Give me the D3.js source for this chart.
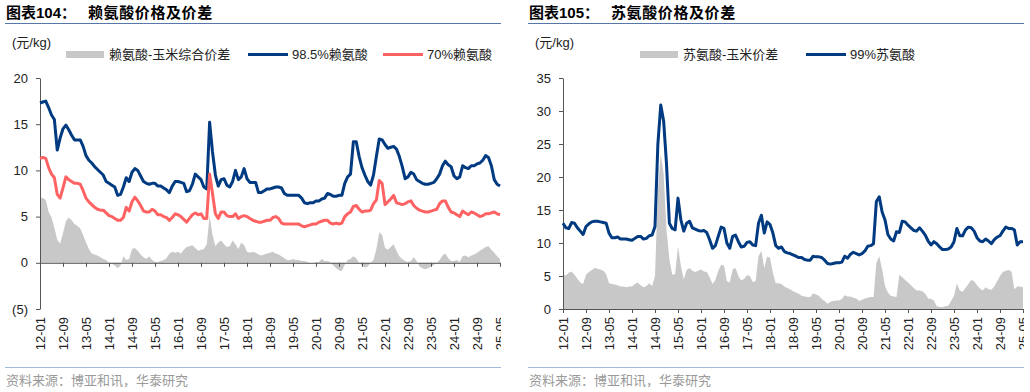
<!DOCTYPE html>
<html>
<head>
<meta charset="utf-8">
<script src="https://cdn.jsdelivr.net/npm/d3@7"></script>
<style>
  body { margin: 0; background: #fff; }
  text { font-family: "Liberation Sans", "Noto Sans CJK SC", sans-serif; }
</style>
</head>
<body>
<script>
// monthly points, 2012-01 .. 2025-05
var xTickLabels = ["12-01","12-09","13-05","14-01","14-09","15-05","16-01","16-09","17-05","18-01","18-09",
  "19-05","20-01","20-09","21-05","22-01","22-09","23-05","24-01","24-09","25-05"];

var lysSpread = [
  7.1, 7.0, 6.8, 5.5, 4.9, 3.8, 2.5, 2.1, 3.2, 4.5, 4.9, 4.6,
  4.2, 4.0, 3.7, 3.0, 2.2, 1.5, 1.0, 0.9, 0.8, 0.6, 0.4, 0.3,
  0.0, -0.1, -0.3, -0.6, -0.3, 0.7, 0.3, 0.4, 1.5, 1.6, 1.3, 0.9,
  0.6, 0.4, 0.7, 0.3, 0.1, 0.1, 0.2, 0.3, 0.5, 1.0, 1.2, 1.1,
  1.2, 1.0, 1.4, 1.7, 1.8, 1.9, 1.6, 1.3, 1.4, 1.5, 2.0, 5.1,
  3.0, 1.8, 2.2, 2.4, 2.0, 1.7, 1.8, 2.4, 2.0, 1.5, 2.2, 1.9,
  1.2, 1.1, 1.2, 1.1, 0.9, 0.8, 0.9, 1.0, 1.1, 1.2, 1.0, 0.9,
  0.7, 0.5, 0.3, 0.3, 0.4, 0.3, 0.3, 0.2, 0.2, 0.1, 0.0, 0.0,
  0.1, 0.1, 0.4, 0.2, 0.2, 0.1, -0.3, -0.6, -0.8, -0.9, -0.2, 0.3,
  0.4, 0.7, 0.5, 0.0, -0.3, -0.5, -0.4, 0.0, 0.3, 1.5, 3.3, 3.0,
  1.6, 1.4, 1.7, 2.0, 1.3, 0.7, 0.4, 0.2, 0.1, 0.2, 0.6, 0.2,
  -0.4, -0.6, -0.7, -0.6, -0.4, -0.2, 0.0, 0.3, 0.8, 1.0, 0.5, 0.2,
  0.2, 0.3, 0.1, 0.7, 0.8, 0.6, 0.8, 0.9, 1.1, 1.3, 1.5, 1.7,
  1.8, 1.4, 1.1, 0.7, 0.4
];

var lys985 = [
  17.3, 17.4, 17.5, 16.8, 16.0, 15.5, 12.2, 13.5, 14.5, 14.9, 14.4, 13.8,
  13.3, 13.3, 13.3, 12.6, 11.6, 11.1, 10.8, 10.4, 10.1, 9.8, 9.5, 8.8,
  8.6, 8.4, 8.2, 7.3, 7.4, 8.2, 9.2, 8.8, 9.8, 10.2, 10.0, 9.4,
  8.8, 8.6, 8.5, 8.6, 8.6, 8.3, 8.3, 8.1, 7.9, 7.6, 8.3, 8.8,
  8.8, 8.7, 8.6, 7.7, 7.8, 8.5, 9.6, 9.3, 9.0, 8.2, 8.0, 15.2,
  12.0, 9.5, 8.3, 9.0, 9.1, 8.4, 8.2, 8.8, 10.0, 9.0, 9.3, 10.2,
  9.1, 8.7, 8.7, 8.7, 7.6, 7.6, 7.8, 8.0, 8.0, 8.1, 8.2, 8.2,
  8.1, 7.5, 7.3, 7.3, 7.3, 7.3, 7.3, 7.0, 6.5, 6.4, 6.5, 6.5,
  6.7, 6.7, 6.9, 7.0, 7.5, 7.4, 7.2, 7.2, 7.3, 7.3, 8.6, 9.3,
  9.6, 13.1, 13.1, 11.5, 10.3, 9.5, 8.8, 8.4, 9.5, 11.5, 13.4, 13.3,
  12.8, 12.4, 12.5, 12.6, 12.3, 11.5, 10.4, 9.1, 9.3, 9.8, 9.6, 9.0,
  8.8, 8.6, 8.5, 8.5, 8.6, 8.7, 9.1, 9.6, 10.5, 11.0, 10.6, 10.4,
  9.4, 9.1, 9.3, 10.5, 10.3, 10.2, 10.5, 10.5, 10.7, 10.8, 11.1, 11.6,
  11.4, 10.5, 9.0, 8.5, 8.3
];

var lys70 = [
  11.3, 11.4, 11.3, 10.3, 9.6, 9.2, 7.4, 7.0, 8.1, 9.3, 9.0, 8.8,
  8.6, 8.6, 8.5, 7.8, 7.0, 6.6, 6.3, 6.0, 5.8, 5.7, 5.7, 5.4,
  5.1, 5.0, 4.8, 4.6, 4.6, 4.9, 6.0, 5.6, 6.6, 7.1, 6.7, 6.2,
  5.6, 5.5, 5.5, 5.8, 5.6, 5.2, 5.2, 5.0, 4.9, 4.6, 4.9, 5.3,
  5.2, 5.0, 4.7, 4.4, 4.8, 5.2, 5.4, 5.2, 5.3, 4.8, 4.8, 9.6,
  7.5, 5.3, 4.8, 5.5, 5.5, 5.1, 5.0, 5.0, 5.3, 4.8, 5.0, 5.1,
  5.0, 4.8, 4.6, 4.5, 4.4, 4.4, 4.5, 4.6, 4.6, 4.9, 5.0, 4.8,
  4.3, 4.2, 4.2, 4.2, 4.2, 4.2, 4.2, 4.0, 3.9, 4.0, 4.1, 4.2,
  4.2, 4.4, 4.5, 4.6, 4.6, 4.3, 4.2, 4.3, 4.2, 4.3, 5.0, 5.3,
  5.5, 6.1, 6.2, 5.8, 5.5, 5.6, 5.6, 5.7, 6.4, 6.8, 8.9, 8.6,
  6.3, 6.6, 6.9, 7.3, 6.5, 6.4, 6.3, 6.4, 6.6, 6.7, 6.2, 5.9,
  5.7, 5.6, 5.5, 5.5, 5.6, 5.7, 5.8, 6.4, 6.7, 6.7, 6.0, 5.5,
  5.4, 5.2, 5.0, 5.6, 5.4, 5.2, 5.5, 5.4, 5.2, 5.0, 5.1, 5.3,
  5.3, 5.4, 5.5, 5.3, 5.2
];

var thrSpread = [
  5.2, 5.1, 5.5, 5.7, 5.2, 4.6, 4.0, 3.8, 5.2, 5.6, 5.9, 6.2,
  6.1, 6.0, 5.8, 5.3, 3.9, 3.8, 3.7, 3.6, 3.4, 3.4, 3.3, 3.4,
  3.4, 3.8, 4.0, 3.6, 3.3, 3.5, 3.9, 3.5, 5.0, 18.0, 23.5, 20.5,
  12.0, 7.5, 5.2, 5.3, 9.5, 6.5, 4.5, 5.9, 6.2, 5.8, 5.6, 5.8,
  6.0, 5.7, 5.6, 4.8, 3.8, 4.4, 5.8, 6.7, 6.6, 4.2, 4.0, 6.0,
  6.2, 5.0, 4.3, 4.6, 5.1, 5.0, 4.1, 4.2, 8.0, 8.8, 6.2, 7.9,
  7.8, 5.5, 3.9, 3.9, 3.8, 3.4, 3.2, 3.0, 2.7, 2.5, 2.3, 2.0,
  1.9, 1.8, 1.8, 2.4, 2.2, 2.0, 1.5, 1.2, 0.8, 1.1, 1.2, 1.3,
  1.3, 1.5, 2.1, 1.9, 1.9, 1.7, 1.6, 1.2, 1.4, 1.6, 1.7, 1.8,
  1.8, 7.0, 8.0, 6.0, 3.5, 2.5, 2.0, 1.9, 1.8, 5.2, 4.8, 4.4,
  4.0, 3.6, 3.2, 2.8, 2.8, 2.7, 2.3, 1.6, 1.5, 1.3, 0.4, 0.3,
  0.3, 0.4, 0.5, 1.2, 2.0, 3.9, 2.8, 2.6, 3.2, 3.8, 4.4, 4.2,
  3.6, 3.1, 2.8, 3.3, 3.0, 2.9, 3.4, 4.2, 5.0, 5.6, 5.8, 5.9,
  5.7, 3.0, 3.4, 3.4, 3.3
];

var thr99 = [
  13.0, 12.3, 12.2, 13.1, 13.0, 12.3, 11.8, 11.3, 12.5, 12.9, 13.2, 13.3,
  13.3, 13.2, 13.1, 13.0, 11.5, 10.8, 10.8, 10.9, 10.6, 10.6, 10.6, 10.5,
  10.4, 10.7, 11.0, 11.0, 10.6, 10.7, 11.1, 11.2, 12.5, 25.0, 30.9, 28.5,
  22.0, 13.0, 12.2, 12.0, 16.8, 13.5, 11.8, 13.0, 13.3, 12.3, 12.1, 11.9,
  11.8, 11.9, 11.6, 10.5, 9.2, 9.6, 11.0, 12.4, 12.2, 10.0, 9.2, 11.0,
  11.2, 10.2, 9.4, 9.5, 10.1, 10.2, 9.7, 9.6, 13.0, 14.2, 11.5, 13.2,
  12.8, 11.5, 9.6, 9.2, 9.4, 8.7, 8.5, 8.4, 8.2, 8.0, 7.8, 7.8,
  7.5, 7.4, 7.4, 8.0, 7.9, 7.9, 7.8, 7.4, 6.9, 6.8, 6.9, 7.0,
  7.0, 7.1, 8.0, 7.7, 8.3, 8.6, 8.4, 8.2, 8.4, 8.8, 9.5, 9.6,
  9.9, 16.3, 17.0, 14.7, 13.5, 11.3, 10.6, 10.3, 11.7, 11.6, 13.3, 13.2,
  12.7, 12.3, 11.9, 11.8, 12.3, 11.8, 11.2, 10.3, 9.7, 10.2, 9.9, 9.4,
  9.0, 9.0, 9.1, 9.4, 10.2, 12.2, 11.1, 11.1, 12.0, 12.4, 12.3, 11.8,
  10.8, 10.3, 10.2, 10.6, 10.3, 9.9, 10.5, 10.9, 11.1, 11.8, 12.4, 12.2,
  12.2, 12.0, 9.7, 10.2, 10.2
];

var svg = d3.select("body").append("svg")
  .attr("width", 1030)
  .attr("height", 392);

function drawPanel(p) {
  var g = svg.append("g");
  var nPts = p.spread.length;
  var x = d3.scaleLinear().domain([0, nPts - 1]).range([p.left, p.left + 460]);
  var y = d3.scaleLinear().domain(p.yDomain).range([309, 78]);

  // title + rules
  g.append("text").attr("x", p.edge + 1).attr("y", 18)
    .attr("font-size", 15).attr("font-weight", "bold").text(p.titleNo);
  g.append("text").attr("x", p.edge + 83).attr("y", 18)
    .attr("font-size", 15).attr("font-weight", "bold").attr("letter-spacing", 0.6).text(p.title);
  g.append("line").attr("x1", p.edge).attr("x2", p.edge + 496).attr("y1", 23.5).attr("y2", 23.5)
    .attr("stroke", "#5577aa").attr("stroke-width", 1);
  g.append("line").attr("x1", p.edge).attr("x2", p.edge + 496).attr("y1", 367.5).attr("y2", 367.5)
    .attr("stroke", "#a3b9dc").attr("stroke-width", 1);
  g.append("text").attr("x", p.edge + 1).attr("y", 385)
    .attr("font-size", 13).attr("fill", "#9a9a9a").text("资料来源：博亚和讯，华泰研究");

  g.append("text").attr("x", p.edge + 7).attr("y", 47)
    .attr("font-size", 13).attr("fill", "#222").text("(元/kg)");

  // spread area
  g.append("path").datum(p.spread)
    .attr("d", d3.area().x(function(d, i) { return x(i); }).y0(y(0)).y1(function(d) { return y(d); }))
    .attr("fill", "#c8c8c8");

  // axes
  var yAxis = d3.axisLeft(y).tickValues(p.yTicks).tickSize(4).tickSizeOuter(0).tickPadding(8)
    .tickFormat(function(d) { return d < 0 ? "(" + (-d) + ")" : d; });
  var ya = g.append("g").attr("transform", "translate(" + p.left + ",0)").call(yAxis);
  ya.selectAll("text").attr("font-size", 13).attr("fill", "#222")
    .style("font-family", "'Liberation Sans', Arial, sans-serif");

  var tickIdx = xTickLabels.map(function(d, i) { return i * 8; });
  var xAxis = d3.axisBottom(x).tickValues(tickIdx).tickSize(4).tickSizeOuter(0).tickFormat("");
  g.append("g").attr("transform", "translate(0," + y(0) + ")").call(xAxis);
  g.selectAll(".domain, .tick line").attr("stroke", "#555");

  // the chart frame cuts the last rotated label in half
  var clipId = "clip" + p.left;
  svg.append("clipPath").attr("id", clipId).append("rect")
    .attr("x", p.edge).attr("y", 300).attr("width", p.left + 461 - p.edge).attr("height", 60);
  g.append("g").attr("clip-path", "url(#" + clipId + ")")
    .selectAll(".xlab").data(xTickLabels).enter().append("text")
    .attr("class", "xlab")
    .attr("transform", function(d, i) { return "translate(" + x(tickIdx[i]) + ",317) rotate(-90)"; })
    .attr("text-anchor", "end").attr("dy", "0.36em")
    .attr("font-size", 13).attr("fill", "#222")
    .text(function(d) { return d; });

  // price lines
  p.lines.forEach(function(l) {
    g.append("path").datum(l.values)
      .attr("d", d3.line().x(function(d, i) { return x(i); }).y(function(d) { return y(d); }))
      .attr("fill", "none").attr("stroke", l.color).attr("stroke-width", 3)
      .attr("stroke-linejoin", "round");
  });

  // legend
  g.append("rect").attr("x", p.leg[0]).attr("y", 51).attr("width", 38).attr("height", 7).attr("fill", "#c8c8c8");
  g.append("text").attr("x", p.leg[0] + 43).attr("y", 59).attr("font-size", 13).attr("fill", "#222").text(p.spreadName);
  p.lines.forEach(function(l, i) {
    var lx = p.leg[i + 1];
    g.append("line").attr("x1", lx).attr("x2", lx + 40).attr("y1", 54.5).attr("y2", 54.5)
      .attr("stroke", l.color).attr("stroke-width", 3);
    g.append("text").attr("x", lx + 44).attr("y", 59).attr("font-size", 13).attr("fill", "#222").text(l.name);
  });
}

drawPanel({
  edge: 5, left: 40, yDomain: [-5, 20], yTicks: [-5, 0, 5, 10, 15, 20],
  titleNo: "图表104：", title: "赖氨酸价格及价差",
  spread: lysSpread, spreadName: "赖氨酸-玉米综合价差",
  lines: [
    { name: "98.5%赖氨酸", values: lys985, color: "#003a80" },
    { name: "70%赖氨酸", values: lys70, color: "#ff6262" }
  ],
  leg: [66, 248, 383]
});

drawPanel({
  edge: 528, left: 563, yDomain: [0, 35], yTicks: [0, 5, 10, 15, 20, 25, 30, 35],
  titleNo: "图表105：", title: "苏氨酸价格及价差",
  spread: thrSpread, spreadName: "苏氨酸-玉米价差",
  lines: [
    { name: "99%苏氨酸", values: thr99, color: "#003a80" }
  ],
  leg: [640, 806]
});
</script>
</body>
</html>
